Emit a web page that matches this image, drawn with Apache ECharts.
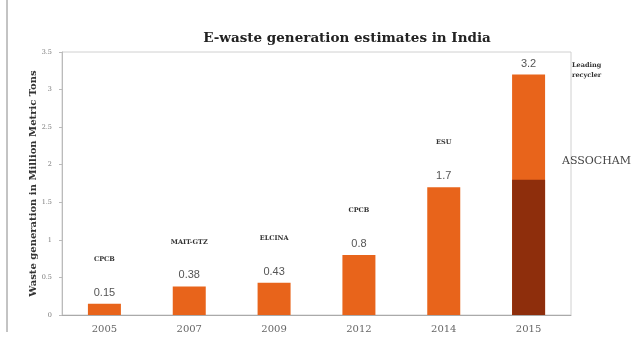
<!DOCTYPE html>
<html><head><meta charset="utf-8">
<script src="https://cdn.jsdelivr.net/npm/echarts@6/dist/echarts.min.js"></script>
<style>html,body{margin:0;padding:0;background:#fff}#c{width:631px;height:344px}</style>
</head><body><div id="c"></div>
<script>
const years = ['2005','2007','2009','2012','2014','2015'];
const values = [0.15, 0.38, 0.43, 0.8, 1.7, 3.2];
const sources = ['CPCB','MAIT-GTZ','ELCINA','CPCB','ESU',''];
const assochamPart = [null, null, null, null, null, 1.8];
const yTicks = [0, 0.5, 1, 1.5, 2, 2.5, 3, 3.5];

const chart = echarts.init(document.getElementById('c'));
const serif = '"DejaVu Serif", "Liberation Serif", serif';
chart.setOption({
  backgroundColor: '#fff',
  animation: false,
  title: {
    text: 'E-waste generation estimates in India',
    left: 342, top: 26, textAlign: 'center',
    textStyle: {fontFamily: serif, fontSize: 13.5, fontWeight: 'bold', color: '#222'}
  },
  grid: {left: 62, right: 60, top: 52, bottom: 29, show: true, borderColor: '#d0d0d0', borderWidth: 1},
  xAxis: {
    type: 'category', data: years,
    axisLine: {lineStyle: {color: '#aaa'}},
    axisTick: {show: false},
    axisLabel: {color: '#666', fontSize: 10, fontFamily: serif, margin: 9}
  },
  yAxis: {
    type: 'value', min: 0, max: 3.5, interval: 0.5,
    name: 'Waste generation in Million Metric Tons',
    nameLocation: 'middle', nameGap: 24, nameMoveOverlap: false,
    nameTextStyle: {fontFamily: serif, fontSize: 10, fontWeight: 'bold', color: '#333'},
    axisLine: {show: true, lineStyle: {color: '#bbb'}},
    axisTick: {show: true, length: 3, lineStyle: {color: '#bbb'}},
    splitLine: {show: false},
    axisLabel: {color: '#777', fontSize: 6.5, fontFamily: serif, margin: 10,
      formatter: v => yTicks.includes(v) ? String(v) : ''}
  },
  series: [
    {
      type: 'bar', data: values, barWidth: 33, barGap: '-100%',
      itemStyle: {color: '#E8641B'},
      label: {
        show: true, position: 'top', distance: 4,
        formatter: p => (sources[p.dataIndex] ? '{s|' + sources[p.dataIndex] + '}\n' : '') + '{v|' + p.value + '}',
        rich: {
          s: {fontFamily: serif, fontSize: 6.5, fontWeight: 'bold', color: '#333', lineHeight: 30, verticalAlign: 'top', align: 'center'},
          v: {fontFamily: '"Liberation Sans", Arial, sans-serif', fontSize: 11, color: '#555', lineHeight: 14, align: 'center'}
        }
      },
      z: 2
    },
    {
      type: 'bar', data: assochamPart, barWidth: 33,
      itemStyle: {color: '#8E2E0C'},
      label: {show: false},
      z: 3
    }
  ],
  graphic: [
    {type: 'line', shape: {x1: 7, y1: 0, x2: 7, y2: 332}, style: {stroke: '#888', lineWidth: 1}},
    {type: 'text', left: 572, top: 60, style: {text: 'Leading\nrecycler', font: 'bold 6.5px ' + serif, fill: '#333', lineHeight: 10}},
    {type: 'text', left: 562, top: 156, style: {text: 'ASSOCHAM', font: '11px ' + serif, fill: '#444'}}
  ]
});
</script></body></html>
